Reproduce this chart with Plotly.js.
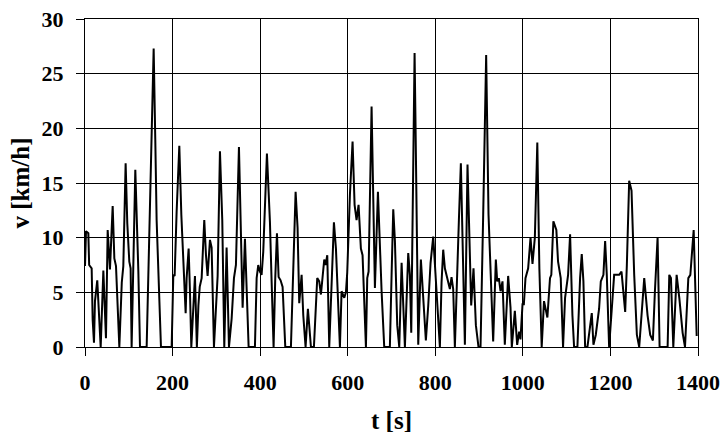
<!DOCTYPE html>
<html>
<head>
<meta charset="utf-8">
<script src="https://cdn.plot.ly/plotly-3.0.1.min.js"></script>
<style>html,body{margin:0;padding:0;background:#fff;}#chart{width:723px;height:437px;}</style>
</head>
<body>
<div id="chart"></div>
<script>
const timeS = [0, 2.3, 7.6, 9.5, 15.2, 17.5, 20.5, 22.8, 28, 35.8, 41.9, 47.9, 51.8, 57, 63.2, 67, 70.8, 74.6, 78.4, 84, 87.5, 92.8, 96.6, 101.2, 104.2, 106.5, 114.9, 121.8, 125.6, 140.8, 145, 149.9, 153, 156.8, 160.5, 163.6, 173.5, 197.9, 201.7, 204.7, 209.3, 215.4, 220, 226, 229.9, 232.1, 236.7, 239.7, 242.8, 251.1, 253.5, 255.5, 259, 262, 266.4, 272.4, 276.3, 280, 285.4, 289.2, 294.5, 299.1, 302.9, 308.2, 313.5, 318.1, 323.4, 328.8, 331, 334.9, 340.2, 344.7, 351.6, 355.4, 360, 365.3, 369.1, 373.7, 388.1, 392, 395.7, 399.5, 403.3, 407.1, 415.5, 422.4, 426.2, 430.7, 434.5, 438.4, 442.2, 446.7, 451.3, 457.4, 470.3, 475.6, 481, 485.5, 489.3, 494.7, 498.5, 503.8, 509.1, 516, 522.8, 530.4, 535, 538.8, 542.6, 546.4, 549.5, 553.3, 557.8, 568.5, 573.1, 576.9, 582.2, 586, 592.1, 595.9, 598.9, 605, 611.1, 615.7, 620.2, 624.8, 630.1, 633.9, 641.6, 644.6, 647.7, 654.5, 662.1, 669, 672, 677.4, 683.4, 696.3, 700.2, 704, 707.8, 713.1, 717.7, 723.1, 726.9, 730.6, 738.2, 742, 745.1, 752.7, 755, 761.1, 767.1, 772.4, 778.5, 783.9, 789.2, 795.3, 799.1, 810.5, 814.3, 818.1, 821.9, 825.7, 829.5, 833.3, 837.1, 840.9, 844.7, 850.8, 853.9, 858.4, 865.3, 867.6, 873.6, 879, 882, 887.3, 892.7, 898.7, 903.3, 909.4, 916.2, 921.6, 932.2, 938.3, 941.4, 945.2, 949, 953.5, 958.8, 966.4, 971.8, 974.8, 981.7, 987, 991.6, 994.6, 999.2, 1002.3, 1006, 1012.1, 1017.5, 1022, 1027.4, 1033, 1037.7, 1043, 1048.3, 1056, 1062, 1065, 1069.7, 1076.5, 1080.4, 1086.5, 1091.8, 1096.4, 1103.3, 1107.9, 1113.2, 1117, 1124.6, 1130.7, 1134.5, 1138.3, 1142.2, 1147.5, 1157.4, 1161.2, 1166.5, 1174.1, 1178, 1184, 1187.9, 1191.7, 1197, 1208.5, 1219.9, 1225.3, 1233.7, 1237.5, 1242.8, 1248.2, 1254.3, 1260.4, 1265.7, 1277.2, 1284.8, 1290.9, 1297, 1301.6, 1307.7, 1312.3, 1330.6, 1334.4, 1338.2, 1343.6, 1351.2, 1357.3, 1364.9, 1370.3, 1377.9, 1382.5, 1390.1, 1397];

const speedKmh = [7.4, 10.6, 10.4, 7.5, 7.2, 2.5, 0.4, 4.2, 6.1, 0, 7.0, 0.8, 10.7, 7.1, 12.9, 8.1, 7.4, 2.7, 0, 5.9, 7.4, 16.8, 11.3, 7.8, 7.2, 0, 16.2, 7.0, 0, 0, 7.0, 15.8, 21.5, 27.3, 19, 11.6, 0, 0, 6.6, 6.5, 12.4, 18.4, 12.1, 6.0, 3.1, 6.3, 9.0, 5.1, 0, 6.5, 3.8, 0, 3.8, 5.5, 6.3, 11.6, 8.4, 6.5, 9.8, 9.1, 0, 3.8, 6.5, 17.9, 11.6, 0, 9.1, 0, 1.1, 2.6, 6.3, 7.5, 18.3, 12.1, 3.6, 9.9, 6.0, 0, 0, 6.3, 7.5, 6.9, 6.6, 8.7, 17.7, 11.4, 6.0, 0, 6.3, 10.4, 6.4, 6.1, 5.5, 0, 0, 6.3, 14.2, 10.9, 4.0, 6.6, 2.9, 0, 3.5, 0, 0, 6.3, 6.0, 4.8, 6.6, 8.0, 7.5, 8.4, 0, 11.4, 9.0, 5.2, 0, 5.1, 4.5, 5.0, 6.8, 13.9, 18.8, 13.0, 11.6, 13.0, 9.0, 8.4, 0, 6.3, 6.9, 22.0, 5.4, 14.2, 10.6, 5.1, 0, 0, 6.6, 12.6, 9.7, 2.0, 0, 7.7, 3.8, 0, 8.6, 6.6, 1.3, 26.9, 20, 0.2, 8.0, 4.5, 0.6, 3.8, 7.7, 10.1, 7.7, 0, 5.9, 8.9, 7.2, 6.6, 6.0, 5.3, 6.4, 5.3, 0, 6.6, 11.6, 16.8, 4.1, 0.2, 16.7, 7.2, 3.8, 7.2, 2.0, 0, 0, 12.1, 26.7, 12.1, 0.5, 8.0, 6.0, 6.3, 5.1, 6.0, 0.2, 6.5, 3.6, 0, 3.3, 0.2, 1.4, 0.7, 3.9, 3.9, 6.3, 7.2, 10.0, 7.6, 10.0, 18.7, 7.2, 0, 4.2, 2.7, 6.3, 6.6, 11.5, 10.7, 7.8, 6.3, 0, 4.5, 6.6, 10.3, 2.9, 0, 0, 6.3, 8.5, 6.0, 0, 0, 3.1, 0.2, 1.1, 3.5, 6.0, 6.6, 9.7, 6.6, 0, 6.6, 6.6, 6.9, 3.2, 7.5, 15.2, 14.3, 6.6, 1.1, 0, 6.3, 2.9, 1.1, 0.6, 5.1, 10.0, 0, 0, 6.6, 6.3, 0, 6.6, 4.5, 1.3, 0, 6.3, 6.6, 10.7, 1.0];

const xTitle = 't [s]';
const yTitle = 'v [km/h]';

const fontFamily = 'Liberation Serif, Times New Roman, serif';

const trace = {
  x: timeS,
  y: speedKmh,
  type: 'scatter',
  mode: 'lines',
  line: {color: '#000000', width: 2},
  hoverinfo: 'x+y'
};

const axisCommon = {
  showgrid: true,
  gridcolor: '#000000',
  gridwidth: 1,
  showline: true,
  linecolor: '#000000',
  linewidth: 1,
  mirror: true,
  ticks: 'outside',
  ticklen: 8,
  tickwidth: 1,
  tickcolor: '#000000',
  zeroline: false,
  tickfont: {family: fontFamily, size: 22, weight: 700, color: '#000000'}
};

const layout = {
  width: 723,
  height: 437,
  margin: {l: 85, r: 25, t: 19, b: 90, pad: 0},
  paper_bgcolor: '#ffffff',
  plot_bgcolor: '#ffffff',
  showlegend: false,
  font: {family: fontFamily, color: '#000000'},
  xaxis: Object.assign({}, axisCommon, {
    range: [0, 1400],
    tick0: 0,
    dtick: 200,
    ticklabelstandoff: 8,
    title: {text: xTitle, font: {family: fontFamily, size: 25, weight: 700, color: '#000000'}, standoff: 17}
  }),
  yaxis: Object.assign({}, axisCommon, {
    range: [0, 30],
    tick0: 0,
    dtick: 5,
    ticklabelstandoff: 8,
    title: {text: yTitle, font: {family: fontFamily, size: 25, weight: 700, color: '#000000'}, standoff: 4}
  })
};

Plotly.newPlot('chart', [trace], layout, {staticPlot: true, displayModeBar: false});
</script>
</body>
</html>
